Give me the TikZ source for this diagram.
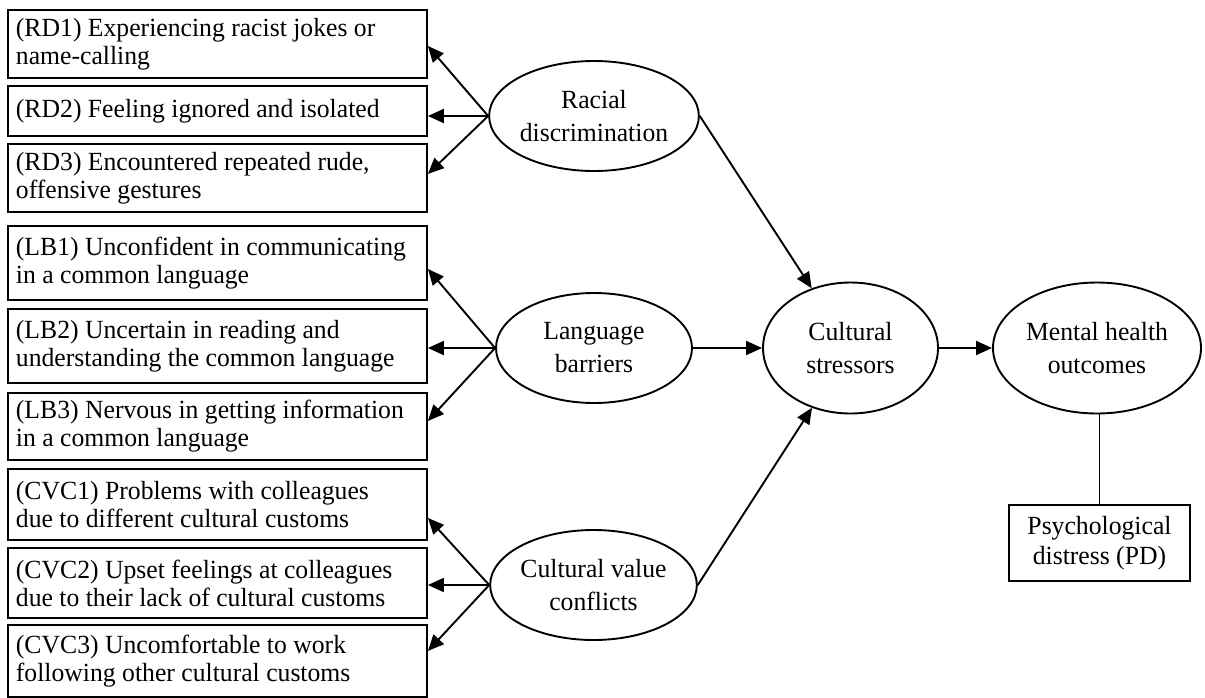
\documentclass[tikz,border=0pt]{standalone}
\usepackage{fontspec}
\setmainfont{Liberation Serif}[FakeStretch=0.98]
\usetikzlibrary{shapes.geometric,arrows.meta}

\begin{document}
\begin{tikzpicture}[x=0.5pt,y=-0.5pt,
  every path/.style={line width=0.95pt},
  item/.style={draw, rectangle, anchor=north west, minimum width=209.5pt,
    inner sep=0pt},
  itemtext/.style={anchor=west, inner sep=0pt, align=left,
    font=\fontsize{13.1}{14}\selectfont},
  latent/.style={draw, ellipse, inner sep=0pt, align=center,
    font=\fontsize{13.1}{16.5}\selectfont},
  measure/.style={draw, rectangle, inner sep=0pt, align=center,
    font=\fontsize{13.1}{15}\selectfont},
  link/.style={-{Triangle[length=8pt,width=7pt]}}]
\useasboundingbox (0,0) rectangle (1205,697);

% indicator boxes
\node[item, minimum height=34pt]   (rd1)  at (7,9)   {};
\node[item, minimum height=25pt]   (rd2)  at (7,85)  {};
\node[item, minimum height=34pt]   (rd3)  at (7,143) {};
\node[item, minimum height=37pt]   (lb1)  at (7,225) {};
\node[item, minimum height=37pt]   (lb2)  at (7,308) {};
\node[item, minimum height=33.5pt] (lb3)  at (7,392) {};
\node[item, minimum height=35.5pt] (cvc1) at (7,468) {};
\node[item, minimum height=35pt]   (cvc2) at (7,547) {};
\node[item, minimum height=36pt]   (cvc3) at (7,624) {};

% indicator wording
\node[itemtext] (rd1t)  at ([xshift=4pt]rd1.west)  {(RD1) Experiencing racist jokes or\\name-calling};
\node[itemtext] (rd2t)  at ([xshift=4pt]rd2.west)  {(RD2) Feeling ignored and isolated};
\node[itemtext] (rd3t)  at ([xshift=4pt]rd3.west)  {(RD3) Encountered repeated rude,\\offensive gestures};
\node[itemtext] (lb1t)  at ([xshift=4pt]lb1.west)  {(LB1) Unconfident in communicating\\in a common language};
\node[itemtext] (lb2t)  at ([xshift=4pt]lb2.west)  {(LB2) Uncertain in reading and\\understanding the common language};
\node[itemtext] (lb3t)  at ([xshift=4pt]lb3.west)  {(LB3) Nervous in getting information\\in a common language};
\node[itemtext] (cvc1t) at ([xshift=4pt]cvc1.west) {(CVC1) Problems with colleagues\\due to different cultural customs};
\node[itemtext] (cvc2t) at ([xshift=4pt]cvc2.west) {(CVC2) Upset feelings at colleagues\\due to their lack of cultural customs};
\node[itemtext] (cvc3t) at ([xshift=4pt]cvc3.west) {(CVC3) Uncomfortable to work\\following other cultural customs};

% latent constructs
\node[latent, minimum width=98pt, minimum height=55pt]   (rd)  at (594,116) {Racial\\discrimination};
\node[latent, minimum width=98pt, minimum height=55pt]   (lb)  at (594,348) {Language\\barriers};
\node[latent, minimum width=98.5pt, minimum height=55pt] (cvc) at (593.5,585) {Cultural value\\conflicts};
\node[latent, minimum width=87.5pt, minimum height=65.5pt] (cs) at (850.5,348) {Cultural\\stressors};
\node[latent, minimum width=104pt, minimum height=65.5pt]  (mh) at (1097,348) {Mental health\\outcomes};

% outcome indicator
\node[measure, minimum width=90.5pt, minimum height=38pt] (pd) at (1099.5,543) {Psychological\\distress (PD)};

% loadings
\draw[link] (rd.west) -- ([yshift=-1pt]rd1.east);
\draw[link] (rd.west) -- (rd2.east |- rd.west);
\draw[link] (rd.west) -- ([yshift=2pt]rd3.east);
\draw[link] (lb.west) -- ([yshift=-3pt]lb1.east);
\draw[link] (lb.west) -- (lb2.east |- lb.west);
\draw[link] (lb.west) -- ([yshift=2.75pt]lb3.east);
\draw[link] (cvc.west) -- ([yshift=-6.75pt]cvc1.east);
\draw[link] (cvc.west) -- (cvc2.east |- cvc.west);
\draw[link] (cvc.west) -- ([yshift=5pt]cvc3.east);

% structural paths
\draw[link] (rd.east) -- (cs);
\draw[link] (lb.east) -- (cs.west);
\draw[link] (cvc.east) -- (cs);
\draw[link] (cs.east) -- (mh.west);
\draw (pd.north) -- (pd.north |- mh.south);
\end{tikzpicture}
\end{document}
